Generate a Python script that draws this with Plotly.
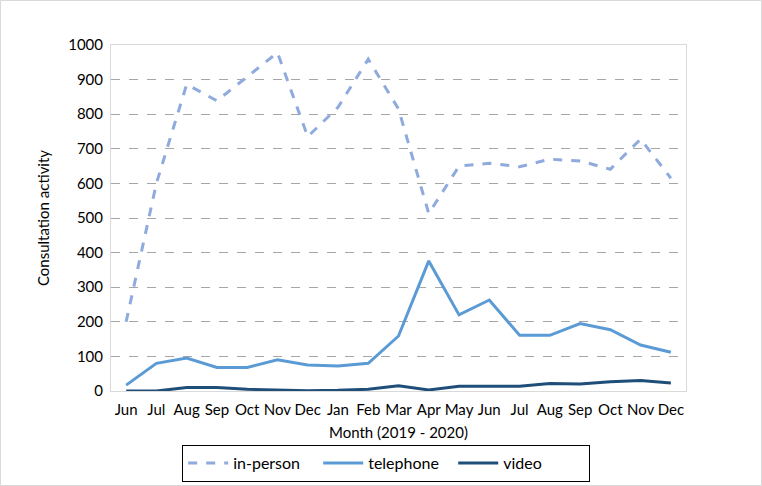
import plotly.graph_objects as go

months = ["Jun", "Jul", "Aug", "Sep", "Oct", "Nov", "Dec", "Jan", "Feb", "Mar",
          "Apr", "May", "Jun", "Jul", "Aug", "Sep", "Oct", "Nov", "Dec"]
in_person = [200, 600, 886, 839, 908, 978, 735, 820, 959, 815,
             513, 650, 658, 648, 670, 665, 641, 728, 615]
telephone = [17, 80, 95, 68, 68, 90, 75, 72, 80, 159,
             376, 220, 263, 161, 161, 195, 177, 133, 112]
video = [0, 0, 10, 10, 5, 2, 1, 2, 5, 15,
         3, 14, 15, 14, 22, 20, 27, 30, 23]

x_idx = list(range(len(months)))
FONT = "Lato, Liberation Sans, sans-serif"

fig = go.Figure()
fig.add_trace(go.Scatter(x=x_idx, y=in_person, mode="lines", name="in-person",
                         line=dict(color="#8FAADC", width=3, dash="dash")))
fig.add_trace(go.Scatter(x=x_idx, y=telephone, mode="lines", name="telephone",
                         line=dict(color="#5B9BD5", width=3)))
fig.add_trace(go.Scatter(x=x_idx, y=video, mode="lines", name="video",
                         line=dict(color="#1F4E79", width=3)))

fig.update_layout(
    width=762, height=486,
    margin=dict(l=111, r=76, t=45, b=95, autoexpand=False),
    paper_bgcolor="white", plot_bgcolor="white",
    font=dict(family=FONT, size=15, color="#000000"),
    showlegend=True,
    legend=dict(orientation="h", xref="container", yref="container",
                x=182 / 762, xanchor="left", y=1 - 445 / 486, yanchor="top",
                bordercolor="#000000", borderwidth=1.2,
                font=dict(family=FONT, size=16), itemwidth=40,
                entrywidth=80, tracegroupgap=0),
    xaxis=dict(tickmode="array", tickvals=x_idx, ticktext=months,
               range=[-0.5, len(months) - 0.5], showgrid=False, automargin=False,
               showline=True, linecolor="#D9D9D9", linewidth=1, mirror=True,
               ticks="", tickfont=dict(size=15), ticklabelstandoff=5,
               title=dict(text="Month (2019 - 2020)", font=dict(size=15), standoff=10)),
    yaxis=dict(range=[0, 1000], dtick=100, showgrid=True, automargin=False,
               gridcolor="#A6A6A6", griddash="dash", gridwidth=1,
               showline=True, linecolor="#D9D9D9", linewidth=1, mirror=True,
               zeroline=False, ticks="", tickfont=dict(size=15), ticklabelstandoff=4,
               title=dict(text="Consultation activity", font=dict(size=15), standoff=14)),
)

pw, ph = 575, 346
fig.add_shape(type="rect", xref="paper", yref="paper",
              x0=(0.5 - 111) / pw, x1=(761.5 - 111) / pw,
              y0=(391 - 485.5) / ph, y1=(391 - 0.5) / ph,
              line=dict(color="#D9D9D9", width=1), layer="below")

fig.write_html("out.html", config={"displayModeBar": False},
               post_script="document.body.style.margin='0';document.body.style.overflow='hidden';")
